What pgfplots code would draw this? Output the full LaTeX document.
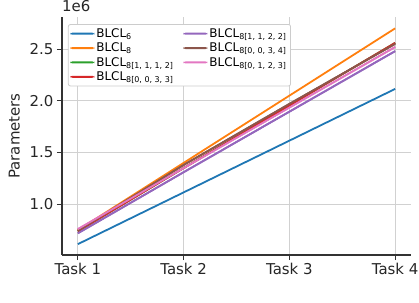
\documentclass[border=0pt]{standalone}
\usepackage{fontspec}
\setmainfont{DejaVu Sans}
\usepackage{pgfplots}
\pgfplotsset{compat=1.18}
\definecolor{tabblue}{HTML}{1F77B4}
\definecolor{taborange}{HTML}{FF7F0E}
\definecolor{tabgreen}{HTML}{2CA02C}
\definecolor{tabred}{HTML}{D62728}
\definecolor{tabpurple}{HTML}{9467BD}
\definecolor{tabbrown}{HTML}{8C564B}
\definecolor{tabpink}{HTML}{E377C2}
\definecolor{axgray}{HTML}{333333}
\definecolor{txtgray}{HTML}{262626}
\begin{document}
\begin{tikzpicture}
\begin{axis}[
  scale only axis,
  width=349bp, height=238bp,
  xmin=-0.15, xmax=3.15,
  ymin=0.51, ymax=2.81,
  xtick={0,1,2,3},
  xticklabels={Task 1,Task 2,Task 3,Task 4},
  ytick={1,1.5,2,2.5},
  yticklabel style={/pgf/number format/fixed,/pgf/number format/fixed zerofill,/pgf/number format/precision=1},
  /pgf/number format/assume math mode=true,
  tick label style={font=\fontsize{15}{17}\selectfont, text=txtgray},
  axis lines=left,
  axis line style={-, draw=axgray, line width=1.1bp},
  tick align=outside,
  major tick length=5bp,
  tick style={draw=axgray, line width=1bp},
  grid=major,
  major grid style={draw=black!18, line width=1bp},
  ylabel={Parameters},
  ylabel shift=3bp,
  ylabel style={font=\fontsize{15}{17}\selectfont, text=txtgray},
  legend columns=2,
  legend cell align=left,
  legend style={at={(rel axis cs:0.017,0.97)}, anchor=north west, draw=black!20, line width=0.8bp, rounded corners=2pt, fill=white, font=\fontsize{12}{13}\selectfont, inner sep=2bp, /tikz/every even column/.append style={column sep=8bp}},
  legend image code/.code={\fill[#1, draw=none] (0bp,-1bp) rectangle (24bp,1bp);},
  every axis plot/.append style={line width=1.8bp},
  clip=false,
]
\addplot[color=tabblue] coordinates {(0,0.615) (1,1.115) (2,1.615) (3,2.115)};
\addlegendentry{BLCL\textsubscript{6}}
\addplot[color=tabpurple] coordinates {(0,0.72) (1,1.31) (2,1.895) (3,2.48)};
\addlegendentry{BLCL\textsubscript{8[1, 1, 2, 2]}}
\addplot[color=taborange] coordinates {(0,0.75) (1,1.40) (2,2.05) (3,2.70)};
\addlegendentry{BLCL\textsubscript{8}}
\addplot[color=tabbrown] coordinates {(0,0.745) (1,1.38) (2,1.97) (3,2.55)};
\addlegendentry{BLCL\textsubscript{8[0, 0, 3, 4]}}
\addplot[color=tabgreen] coordinates {(0,0.74) (1,1.35) (2,1.955) (3,2.56)};
\addlegendentry{BLCL\textsubscript{8[1, 1, 1, 2]}}
\addplot[color=tabpink] coordinates {(0,0.76) (1,1.35) (2,1.935) (3,2.52)};
\addlegendentry{BLCL\textsubscript{8[0, 1, 2, 3]}}
\addplot[color=tabred] coordinates {(0,0.74) (1,1.35) (2,1.955) (3,2.56)};
\addlegendentry{BLCL\textsubscript{8[0, 0, 3, 3]}}
\addplot[color=tabpurple, forget plot] coordinates {(0,0.72) (1,1.31) (2,1.895) (3,2.48)};
\addplot[color=tabbrown, forget plot] coordinates {(0,0.745) (1,1.38) (2,1.97) (3,2.55)};
\addplot[color=tabpink, forget plot] coordinates {(0,0.76) (1,1.35) (2,1.935) (3,2.52)};
\node[anchor=south west, inner sep=0pt, font=\fontsize{15}{17}\selectfont, text=txtgray] at (rel axis cs:0,1.02) {1e6};
\end{axis}
\pgfresetboundingbox
\path[use as bounding box] (-62bp,-48bp) rectangle (357bp,255bp);
\end{tikzpicture}
\end{document}
